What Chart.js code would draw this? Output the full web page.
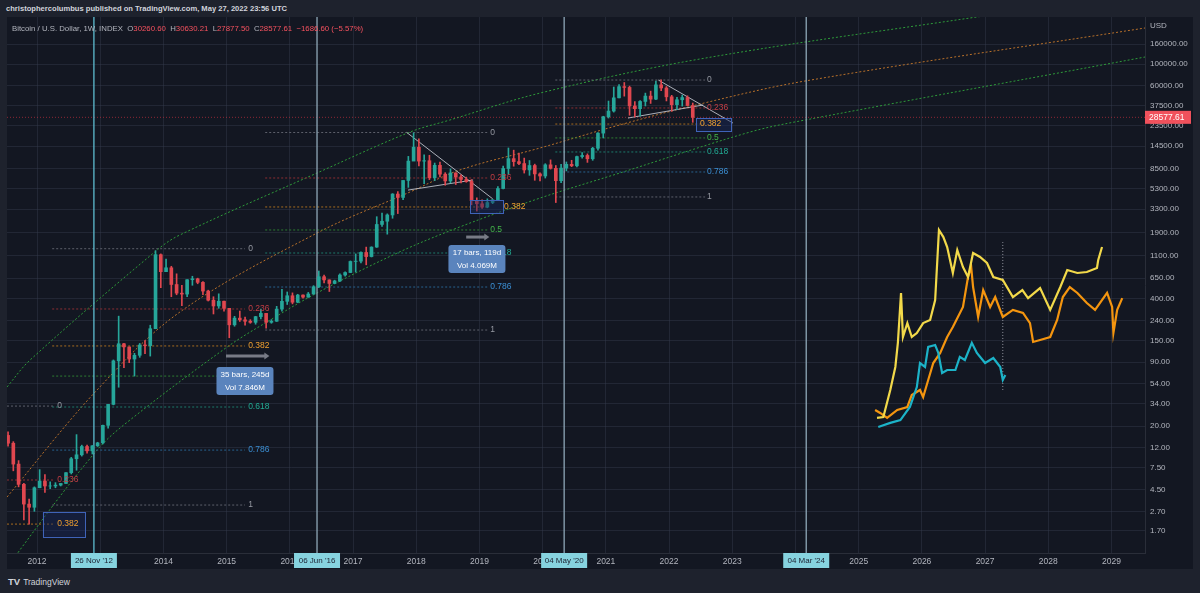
<!DOCTYPE html>
<html>
<head>
<meta charset="utf-8">
<script src="https://cdn.jsdelivr.net/npm/chart.js@4.4.1/dist/chart.umd.min.js"></script>
<style>
html, body { margin: 0; padding: 0; width: 1200px; height: 593px; overflow: hidden; background: #1e222d; font-family: "Liberation Sans", Arial, sans-serif; }
#head { position: absolute; left: 6px; top: 4px; color: #d1d4dc; font-size: 7.6px; font-weight: bold; }
#pane { position: absolute; left: 7px; top: 17px; width: 1186px; height: 552px; background: #131722; }
#legend { position: absolute; left: 5px; top: 7px; font-size: 7.8px; color: #b2b5be; white-space: pre; }
#legend .r { color: #f7525f; }
#brand { position: absolute; left: 8px; top: 576px; color: #d1d4dc; font-size: 8.5px; }
#brand b { font-size: 9.5px; margin-right: 3px; }
canvas { position: absolute; left: 0; top: 0; }
</style>
</head>
<body>
<div id="head">christophercolumbus published on TradingView.com, May 27, 2022 23:56 UTC</div>
<div id="pane">
  <canvas id="chart" width="1186" height="552"></canvas>
  <div id="legend">Bitcoin / U.S. Dollar, 1W, INDEX  O<span class="r">30260.60</span>  H<span class="r">30630.21</span>  L<span class="r">27877.50</span>  C<span class="r">28577.61</span>  <span class="r">−1686.60 (−5.57%)</span></div>
</div>
<div id="brand"><b>TV</b>TradingView</div>
<script>
// monthly candles, July 2011 .. May 2022 (open = previous close)
const candleStart = 2011.5;
const firstOpen = 16.1;
const closes = [13.4, 8.2, 5.1, 3.2, 2.97, 4.7,
  5.5, 4.9, 4.9, 5.0, 5.2, 6.7, 9.3, 10.2, 12.4, 11.2, 12.6, 13.5,
  20.4, 33.4, 93, 139, 129, 97, 106, 135, 133, 198, 1130, 757,
  830, 560, 457, 447, 627, 640, 589, 480, 387, 338, 378, 320,
  217, 254, 244, 236, 230, 263, 284, 230, 236, 314, 377, 430,
  369, 437, 416, 448, 531, 673, 624, 574, 609, 700, 742, 963,
  970, 1190, 1080, 1350, 2300, 2480, 2875, 4700, 4340, 6470, 10200, 14150,
  10200, 10300, 6900, 9250, 7500, 6400, 7730, 7030, 6630, 6320, 4020, 3740,
  3460, 3850, 4100, 5350, 8570, 10820, 10080, 9630, 8290, 9200, 7550, 7190,
  9350, 8600, 6440, 8660, 9460, 9140, 11350, 11650, 10780, 13800, 19700, 28950,
  33100, 45200, 58800, 57700, 37300, 35000, 41500, 47100, 43800, 61300, 57000, 46300,
  38500, 43200, 45500, 37700, 28577.61];
const highs = [17.5, 13.9, 8.9, 5.2, 3.6, 4.8,
  7.2, 6.4, 5.4, 5.3, 5.2, 6.7, 9.6, 16.4, 12.8, 12.8, 12.7, 13.7,
  20.5, 33.4, 95, 266, 140, 129, 111, 140, 150, 215, 1242, 1150,
  1020, 860, 720, 550, 630, 680, 650, 600, 490, 420, 450, 380,
  320, 265, 300, 260, 245, 265, 315, 285, 245, 335, 500, 470,
  460, 445, 440, 465, 545, 770, 700, 625, 620, 720, 755, 975,
  1150, 1210, 1350, 1360, 2760, 3000, 2950, 4750, 4980, 6470, 11400, 19800,
  17200, 11800, 11700, 9750, 9960, 7770, 8500, 7760, 7400, 7000, 6600, 4300,
  4100, 4200, 4120, 5600, 9100, 13900, 13200, 12300, 10950, 10350, 9500, 7750,
  9600, 10500, 9200, 9450, 10000, 10400, 11450, 12480, 12100, 14100, 19900, 29300,
  41900, 58300, 61700, 64800, 59500, 41300, 42300, 50500, 52900, 67000, 69000, 59000,
  47900, 45800, 48200, 47400, 40000];
const lows = [12.5, 7.0, 4.8, 2.2, 2.0, 2.7,
  4.7, 4.2, 4.6, 4.7, 4.9, 5.2, 6.5, 7.1, 9.9, 10.6, 10.4, 12.4,
  13.2, 19.1, 33, 50, 79, 89, 65, 101, 110, 104, 198, 520,
  760, 420, 440, 340, 420, 550, 570, 440, 380, 280, 320, 300,
  160, 210, 235, 215, 225, 220, 250, 200, 225, 235, 300, 350,
  355, 365, 405, 415, 445, 520, 580, 475, 570, 600, 680, 740,
  750, 930, 890, 1070, 1340, 2200, 1830, 2660, 2970, 4110, 5500, 10400,
  9100, 6000, 6600, 6450, 7050, 5780, 6100, 5880, 6100, 6200, 3650, 3150,
  3350, 3400, 3750, 4050, 5300, 7450, 9050, 9400, 7700, 7300, 6500, 6400,
  6850, 8450, 3850, 6150, 8100, 8950, 8900, 10950, 9900, 10400, 13200, 17600,
  28100, 32300, 45000, 47000, 30000, 28800, 29300, 37300, 39600, 43300, 53500, 42000,
  32900, 34300, 37200, 37600, 25400];

// axes
const xMin = 2011.525, xMax = 2029.53;
const yMin = 1.013, yMax = 302500;
const yearTicks = [2012, 2013, 2014, 2015, 2016, 2017, 2018, 2019, 2020, 2021, 2022, 2023, 2024, 2025, 2026, 2027, 2028, 2029];
const priceTicks = [160000, 100000, 60000, 37500, 23500, 14500, 8500, 5300, 3300, 1900, 1100, 650, 400, 240, 150, 90, 54, 34, 20, 12, 7.5, 4.5, 2.7, 1.7];
const lastPrice = 28577.61;

// band curves [year, price]
const upperBand = [[2011.525, 50.3], [2011.89, 94.8], [2013.90, 1262], [2014.26, 1795], [2016.43, 7710], [2017.90, 20200], [2018.53, 26800], [2019.96, 50600], [2022.49, 112700], [2026.87, 302600], [2028.03, 383000]];
const midBand = [[2011.525, 3.78], [2012.95, 46.9], [2014.26, 293], [2016.43, 1880], [2017.90, 4930], [2018.69, 8280], [2019.96, 13900], [2021.22, 23900], [2022.49, 39100], [2024.15, 67100], [2029.53, 233500]];
const lowerBand = [[2011.54, 0.68], [2011.73, 1.09], [2012.95, 11.4], [2013.47, 23.1], [2015.01, 129], [2015.69, 243], [2016.43, 459], [2017.70, 1175], [2018.69, 2170], [2019.96, 4280], [2021.22, 7710], [2023.28, 20200], [2024.15, 26800], [2029.53, 118000]];

// cycle dates
const cycleDates = [2012.90, 2016.43, 2020.34, 2024.17];
const cycleLabels = ['26 Nov \'12', '06 Jun \'16', '04 May \'20', '04 Mar \'24'];

// fib retracements
const fibLevels = ['0', '0.236', '0.382', '0.5', '0.618', '0.786', '1'];
const fibAPrices = [32.1, 5.64, 2.0];
const fibBPrices = [1300, 315, 132, 65, 31.4, 11.4, 3.13];
const fibCPrices = [20000, 6860, 3470, 2020, 1175, 528, 192];
const fibDPrices = [68700, 35600, 24400, 17600, 12650, 7900, 4390];
const fibASpan = [2011.525, 2012.28, 2012.32];
const fibBSpan = [2012.24, 2015.29, 2015.34];
const fibCSpan = [2015.61, 2019.14, 2019.17];
const fibDSpan = [2020.20, 2022.57, 2022.60];

// trend lines
const trendLines = [
  [[2017.85, 20000], [2019.21, 4200]],
  [[2017.87, 5160], [2018.90, 6540]],
  [[2021.83, 68700], [2023.01, 25000]],
  [[2021.35, 28100], [2022.54, 38200]]
];

// projected fractals
const yellowPath = [[2025.29, 24.3], [2025.39, 24.8], [2025.50, 46.9], [2025.58, 80.5], [2025.62, 141.6], [2025.67, 459], [2025.70, 163], [2025.77, 226], [2025.84, 163], [2025.92, 179], [2026.02, 226], [2026.13, 243], [2026.21, 389], [2026.27, 2020], [2026.34, 1710], [2026.40, 1352], [2026.49, 734], [2026.56, 1262], [2026.65, 845], [2026.73, 668], [2026.81, 1175], [2026.92, 1069], [2027.03, 929], [2027.13, 668], [2027.28, 622], [2027.44, 417], [2027.59, 492], [2027.68, 407], [2027.87, 515], [2028.03, 308], [2028.19, 528], [2028.30, 787], [2028.46, 734], [2028.61, 752], [2028.77, 826], [2028.79, 998], [2028.85, 1352]];
const orangePath = [[2025.26, 29.3], [2025.34, 27.3], [2025.45, 24.3], [2025.61, 29.3], [2025.77, 31.4], [2025.84, 41.7], [2025.97, 46.9], [2026.02, 39.7], [2026.10, 59.3], [2026.18, 88.3], [2026.29, 112], [2026.40, 163], [2026.49, 206], [2026.65, 330], [2026.73, 668], [2026.78, 845], [2026.81, 528], [2026.89, 261], [2026.97, 492], [2027.08, 330], [2027.16, 417], [2027.28, 261], [2027.44, 308], [2027.60, 287], [2027.71, 226], [2027.76, 145], [2027.87, 152], [2028.03, 163], [2028.14, 243], [2028.23, 417], [2028.34, 528], [2028.46, 459], [2028.61, 362], [2028.74, 308], [2028.93, 459], [2029.01, 330], [2029.03, 179], [2029.09, 308], [2029.17, 407]];
const cyanPath = [[2025.31, 19.6], [2025.50, 21.6], [2025.66, 23.1], [2025.81, 31.4], [2025.92, 50.2], [2025.97, 88.3], [2026.05, 80.5], [2026.10, 129], [2026.21, 135], [2026.26, 112], [2026.32, 69.8], [2026.40, 75], [2026.53, 75], [2026.60, 102], [2026.68, 94.8], [2026.79, 142], [2026.87, 112], [2027.00, 88.3], [2027.13, 99.3], [2027.24, 80.5], [2027.28, 59.3], [2027.32, 66.7]];
const markerLine = [[2027.28, 46.9], [2027.28, 1520]];

// measure boxes: [centerYear, centerPrice, arrowFrom, arrowTo, arrowPrice]
const measure1 = [2015.29, 58, 2014.99, 2015.66, 104];
const measure2 = [2018.96, 1020, 2018.79, 2019.14, 1710];
const measure1Text = ['35 bars, 245d', 'Vol 7.846M'];
const measure2Text = ['17 bars, 119d', 'Vol 4.069M'];

// highlight rectangles [year0, year1, priceTop, priceBottom]
const rectA = [2012.09, 2012.76, 2.66, 1.48];
const rectC = [2018.85, 2019.37, 4090, 3010];
const rectD = [2022.43, 2022.98, 28100, 20700];

const upColor = '#26a69a', downColor = '#e0474f';
const fibLineColor = { '0': '#5d606b', '0.236': '#8c2e33', '0.382': '#a66c1f', '0.5': '#2e7d32', '0.618': '#1c7a6b', '0.786': '#28628f', '1': '#5d606b' };
const fibTextColor = { '0': '#9598a1', '0.236': '#c23d44', '0.382': '#f0a030', '0.5': '#43b649', '0.618': '#22ab94', '0.786': '#3b8fd3', '1': '#9598a1' };

const pts = arr => arr.map(p => ({ x: p[0], y: p[1] }));
const datasets = [];

// candles
const opens = closes.map((c, i) => i === 0 ? firstOpen : closes[i - 1]);
const tx = closes.map((c, i) => candleStart + i / 12 + 1 / 24);
const candleCol = closes.map((c, i) => c >= opens[i] ? upColor : downColor);
datasets.push({ type: 'bar', data: tx.map((t, i) => ({ x: t, y: [lows[i], highs[i]] })), backgroundColor: candleCol, barThickness: 1, grouped: false, order: 1 });
datasets.push({ type: 'bar', data: tx.map((t, i) => ({ x: t, y: [opens[i], closes[i]] })), backgroundColor: candleCol, barThickness: 3, grouped: false, order: 0 });

const line = (data, color, width, dash, order) => ({ type: 'line', data: pts(data), borderColor: color, borderWidth: width, borderDash: dash || [], pointRadius: 0, fill: false, tension: 0, order: order });

// bands
datasets.push(Object.assign(line(upperBand, '#2e9b3a', 1, [2, 2], 6), { tension: 0.35 }));
datasets.push(Object.assign(line(midBand, '#b9712a', 1, [2, 2], 6), { tension: 0.35 }));
datasets.push(Object.assign(line(lowerBand, '#2e9b3a', 1, [2, 2], 6), { tension: 0.35 }));

// fib lines
[[fibAPrices, fibASpan], [fibBPrices, fibBSpan], [fibCPrices, fibCSpan], [fibDPrices, fibDSpan]].forEach(([prices, span]) => {
  prices.forEach((p, i) => {
    datasets.push(line([[span[0], p], [span[1], p]], fibLineColor[fibLevels[i]], 1, [2, 2], 5));
  });
});

// last price line
datasets.push(line([[xMin, lastPrice], [xMax, lastPrice]], 'rgba(242,54,69,0.55)', 1, [1, 2], 5));

// cycle verticals
cycleDates.forEach((d, i) => {
  datasets.push(line([[d, yMin], [d, yMax]], i === 0 ? '#5fbdd0' : '#8fa8b8', 1.3, [], 3));
});

// trend lines
trendLines.forEach(t => datasets.push(line(t, 'rgba(200,203,212,0.85)', 1, [], 2)));

// fractals
datasets.push(line(markerLine, 'rgba(200,203,212,0.7)', 1, [1, 2], 2));
datasets.push(line(yellowPath, '#f2d94a', 2.2, [], 1));
datasets.push(line(orangePath, '#f4950f', 2.2, [], 1));
datasets.push(line(cyanPath, '#1cb3c8', 2.2, [], 0));

const FONT = '"Liberation Sans", Arial, sans-serif';

const noPad = s => { s.paddingTop = 0; s.paddingBottom = 0; s.paddingLeft = 0; s.paddingRight = 0; };

const overlay = {
  id: 'overlay',
  afterDatasetsDraw(chart) {
    const { ctx } = chart;
    const x = chart.scales.x, y = chart.scales.y;
    ctx.save();
    // highlight rectangles
    [rectA, rectC, rectD].forEach(r => {
      const x0 = x.getPixelForValue(r[0]), x1 = x.getPixelForValue(r[1]);
      const y0 = y.getPixelForValue(r[2]), y1 = y.getPixelForValue(r[3]);
      ctx.fillStyle = 'rgba(25,40,90,0.45)';
      ctx.fillRect(x0, y0, x1 - x0, y1 - y0);
      ctx.strokeStyle = '#3f63b8';
      ctx.lineWidth = 1;
      ctx.strokeRect(Math.round(x0) + 0.5, Math.round(y0) + 0.5, Math.round(x1 - x0), Math.round(y1 - y0));
    });
    // fib labels
    ctx.font = '8.5px ' + FONT;
    ctx.textBaseline = 'middle';
    ctx.textAlign = 'left';
    [[fibAPrices, fibASpan], [fibBPrices, fibBSpan], [fibCPrices, fibCSpan], [fibDPrices, fibDSpan]].forEach(([prices, span], s) => {
      prices.forEach((p, i) => {
        const lvl = fibLevels[i];
        let lx = span[2];
        if (s === 2 && lvl === '0.382') lx = rectC[1] + 0.02;
        if (s === 3 && lvl === '0.382') lx = rectD[0] + 0.06;
        ctx.fillStyle = fibTextColor[lvl];
        ctx.fillText(lvl, x.getPixelForValue(lx), y.getPixelForValue(p));
      });
    });
    // measure boxes
    [[measure1, measure1Text], [measure2, measure2Text]].forEach(([m, txt]) => {
      const ax0 = x.getPixelForValue(m[2]), ax1 = x.getPixelForValue(m[3]), ay = y.getPixelForValue(m[4]);
      ctx.strokeStyle = '#787b86';
      ctx.lineWidth = 3;
      ctx.beginPath(); ctx.moveTo(ax0, ay); ctx.lineTo(ax1 - 3, ay); ctx.stroke();
      ctx.fillStyle = '#787b86';
      ctx.beginPath(); ctx.moveTo(ax1 - 4, ay - 3.5); ctx.lineTo(ax1 + 1, ay); ctx.lineTo(ax1 - 4, ay + 3.5); ctx.fill();
      const cx = x.getPixelForValue(m[0]), cy = y.getPixelForValue(m[1]);
      const w = 57, h = 28;
      ctx.fillStyle = '#5a84bd';
      ctx.beginPath(); ctx.roundRect(cx - w / 2, cy - h / 2, w, h, 3); ctx.fill();
      ctx.fillStyle = '#ffffff';
      ctx.textAlign = 'center';
      ctx.font = '8px ' + FONT;
      ctx.fillText(txt[0], cx, cy - 6);
      ctx.fillText(txt[1], cx, cy + 7);
      ctx.textAlign = 'left';
    });
    ctx.restore();
  },
  afterDraw(chart) {
    const { ctx, chartArea } = chart;
    const x = chart.scales.x, y = chart.scales.y;
    ctx.save();
    ctx.font = '8px ' + FONT;
    ctx.textBaseline = 'middle';
    ctx.textAlign = 'center';
    // cycle date tags on the time axis
    cycleDates.forEach((d, i) => {
      const px = x.getPixelForValue(d);
      ctx.fillStyle = '#86d3df';
      ctx.fillRect(px - 23, chartArea.bottom, 46, 15);
      ctx.fillStyle = '#1b2130';
      ctx.fillText(cycleLabels[i], px, chartArea.bottom + 8);
    });
    // last price tag
    const py = y.getPixelForValue(lastPrice);
    ctx.fillStyle = '#f0515c';
    ctx.fillRect(chartArea.right, py - 6.5, 46, 13);
    ctx.fillStyle = '#ffffff';
    ctx.textAlign = 'left';
    ctx.font = '8.5px ' + FONT;
    ctx.fillText(lastPrice.toFixed(2), chartArea.right + 4, py + 0.5);
    // currency label
    ctx.fillStyle = '#b2b5be';
    ctx.font = '8px ' + FONT;
    ctx.fillText('USD', chartArea.right + 5, 9);
    ctx.restore();
  }
};

new Chart(document.getElementById('chart'), {
  type: 'bar',
  data: { datasets: datasets },
  options: {
    responsive: false,
    animation: false,
    devicePixelRatio: 1,
    layout: { padding: 0 },
    plugins: { legend: { display: false }, tooltip: { enabled: false } },
    scales: {
      x: {
        type: 'linear', min: xMin, max: xMax, offset: false, position: 'bottom',
        grid: { color: 'rgba(54,60,78,0.45)', drawTicks: false, offset: false },
        border: { color: '#2a2e39' },
        afterBuildTicks: s => { s.ticks = yearTicks.map(v => ({ value: v })); },
        afterFit: s => { s.height = 16; noPad(s); },
        ticks: { color: '#b2b5be', font: { size: 8.5, family: FONT }, padding: 4, maxRotation: 0, autoSkip: false, callback: v => String(v) }
      },
      y: {
        type: 'logarithmic', min: yMin, max: yMax, position: 'right',
        grid: { color: 'rgba(54,60,78,0.45)', drawTicks: false },
        border: { color: '#2a2e39' },
        afterBuildTicks: s => { s.ticks = priceTicks.map(v => ({ value: v })); },
        afterFit: s => { s.width = 48; noPad(s); },
        ticks: { color: '#b2b5be', font: { size: 8, family: FONT }, padding: 5, autoSkip: false, callback: v => Number(v).toFixed(2) }
      }
    }
  },
  plugins: [overlay]
});
</script>
</body>
</html>
